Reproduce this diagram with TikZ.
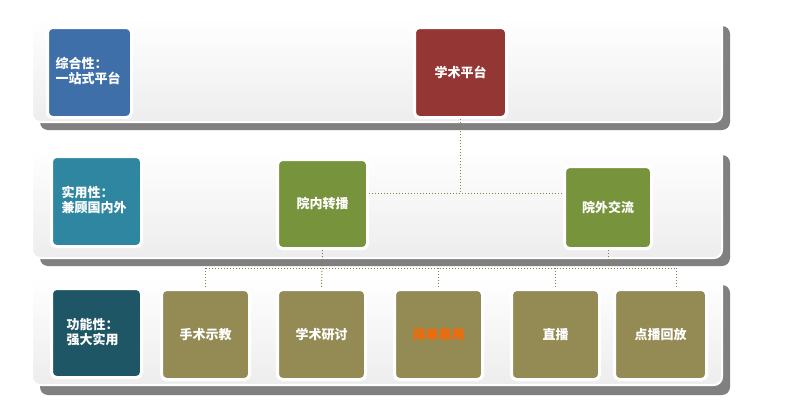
\documentclass[tikz,border=0pt]{standalone}
\usepackage{fontspec}
\setmainfont{Noto Sans CJK SC}
\usetikzlibrary{positioning,calc,shadows}
\definecolor{bandgray}{HTML}{EDEDED}
\definecolor{shadegray}{HTML}{808080}
\definecolor{tileblue}{HTML}{3F6FA8}
\definecolor{tileteal}{HTML}{2E86A0}
\definecolor{tiledark}{HTML}{1F5666}
\definecolor{platred}{HTML}{943634}
\definecolor{leafgreen}{HTML}{77933C}
\definecolor{olive}{HTML}{948A54}
\definecolor{linkbrown}{HTML}{8C7A4A}
\definecolor{easyorange}{HTML}{FF6600}
\begin{document}
\begin{tikzpicture}[
    x=1pt, y=-1pt,
    band/.style={draw=white, line width=2pt, rounded corners=8pt, top color=white, bottom color=bandgray},
    bandshade/.style={fill=shadegray, rounded corners=8pt},
    tile/.style={rectangle, draw=white, line width=3pt, rounded corners=5pt, anchor=north west, inner sep=0pt},
    tiletext/.style={anchor=west, text=white, font=\fontsize{13}{15}\selectfont\bfseries, align=left},
    item/.style={rectangle, draw=white, line width=3pt, rounded corners=5pt, align=center, text=white,
        font=\fontsize{13}{15}\selectfont\bfseries, anchor=north west, inner sep=0pt},
    link/.style={linkbrown, dotted, line width=1pt}
]
\useasboundingbox (0,0) rectangle (785,410);
% Bands
\fill[bandshade] (40,26) rectangle (730,130);
\draw[band] (32,18) rectangle (722,122);
\fill[bandshade] (40,155) rectangle (730,266);
\draw[band] (32,147) rectangle (722,258);
\fill[bandshade] (40,285) rectangle (730,395);
\draw[band] (32,277) rectangle (722,385);

% Left tiles
\node[tile, fill=tileblue, minimum width=84pt, minimum height=90pt] (t1) at (46,26) {};
\node[tiletext] (t1txt) at (52,71) {综合性：\\一站式平台};
\node[tile, fill=tileteal, minimum width=90pt, minimum height=90pt] (t2) at (50,155) {};
\node[tiletext] (t2txt) at (58,200) {实用性：\\兼顾国内外};
\node[tile, fill=tiledark, minimum width=90pt, minimum height=89pt] (t3) at (50,287) {};
\node[tiletext] (t3txt) at (63,332) {功能性：\\强大实用};

% Platform
\node[item, fill=platred, minimum width=92pt, minimum height=90pt] (plat) at (413,26) {学术平台};

% Second level
\node[item, fill=leafgreen, minimum width=90pt, minimum height=89pt] (inner) at (276,158) {院内转播};
\node[item, fill=leafgreen, minimum width=87pt, minimum height=82pt] (outer) at (563,165) {院外交流};

% Functions
\node[item, fill=olive, minimum width=88pt, minimum height=90pt] (surg) at (160,288) {手术示教};
\node[item, fill=olive, minimum width=88pt, minimum height=90pt] (acad) at (276,288) {学术研讨};
\node[item, fill=olive, minimum width=88pt, minimum height=90pt, text=easyorange] (easy) at (393,288) {简单易用};
\node[item, fill=olive, minimum width=88pt, minimum height=90pt] (live) at (510,288) {直播};
\node[item, fill=olive, minimum width=92pt, minimum height=90pt] (vod) at (613,288) {点播回放};

% Links
\coordinate (hub) at (plat.south |- 0,193);
\draw[link] (plat.south) -- (hub);
\draw[link] (inner.east |- hub) -- (outer.west |- hub);
\coordinate (bus) at (0,268);
\coordinate (busend) at (676,268);
\draw[link] (surg.north |- bus) -- (busend);
\draw[link] (inner.south) -- (acad.north);
\draw[link] (outer.south) -- (outer.south |- bus);
\foreach \n in {surg,easy,live}
  \draw[link] (\n.north |- bus) -- (\n.north);
\draw[link] (busend) -- (busend |- vod.north);
\end{tikzpicture}
\end{document}
